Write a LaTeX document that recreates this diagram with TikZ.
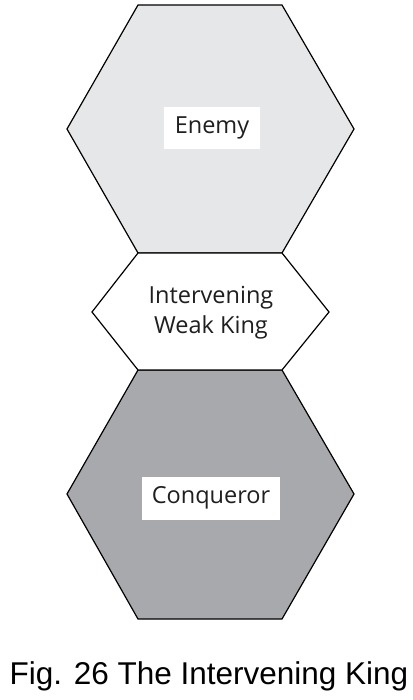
\documentclass[tikz,border=0pt]{standalone}
\usepackage{fontspec}
\setmainfont{Open Sans}
\newfontfamily\capfont{Liberation Sans}
\definecolor{enemyfill}{HTML}{E6E7E8}
\definecolor{conqfill}{HTML}{A7A9AC}
\begin{document}
\begin{tikzpicture}[x=1pt,y=-1pt,
  hexline/.style={draw=black,line width=1.2pt,line join=miter},
  label/.style={fill=white,inner sep=0pt,font=\fontsize{23.5}{30}\selectfont,text=black!88},
]
\useasboundingbox (0,0) rectangle (412,700);
% top hexagon (Enemy)
\path[hexline,fill=enemyfill] (138,5) -- (282,5) -- (354,129) -- (282,253) -- (138,253) -- (67,129) -- cycle;
% bottom hexagon (Conqueror)
\path[hexline,fill=conqfill] (138,370) -- (282,370) -- (354,494) -- (282,619) -- (138,619) -- (67,494) -- cycle;
% middle hexagon
\path[hexline,fill=white] (138,253) -- (282,253) -- (329,312) -- (282,370) -- (138,370) -- (92,312) -- cycle;
\node[label,minimum width=96pt,minimum height=42pt] (enemy) at (212,128) {Enemy};
\node[label,fill=none,anchor=base] (weak1) at (211,303) {Intervening};
\node[label,fill=none,anchor=base] (weak2) at (211,333) {Weak King};
\node[label,minimum width=138pt,minimum height=43pt] (conq) at (211,498) {Conqueror};
\node[font=\capfont\fontsize{31.5}{34}\selectfont,inner sep=0pt,anchor=base] (cap) at (209,684) {Fig. 26 The Intervening King};
\end{tikzpicture}
\end{document}
